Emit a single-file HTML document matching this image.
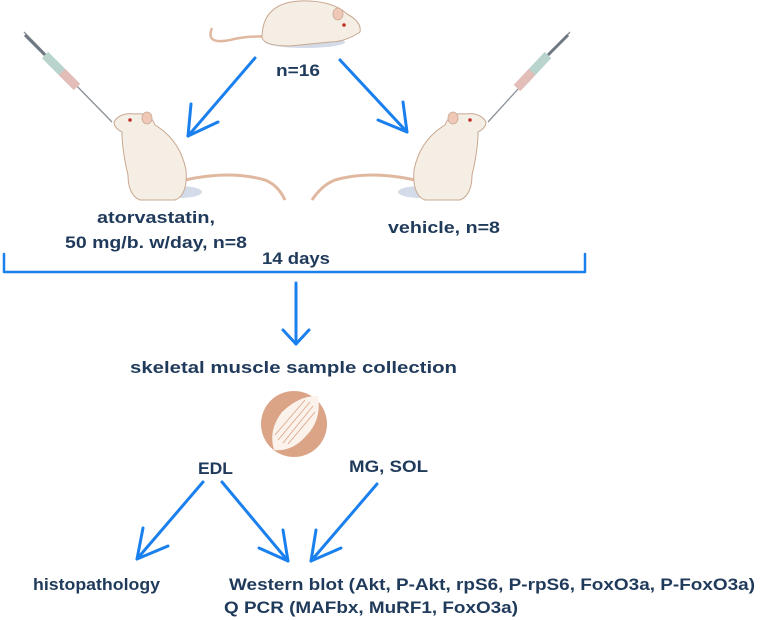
<!DOCTYPE html>
<html><head><meta charset="utf-8"><style>
html,body{margin:0;padding:0;background:#fff;width:761px;height:620px;overflow:hidden}
svg{display:block}
text{font-family:"Liberation Sans",sans-serif;font-weight:bold;fill:#1f3a5a;font-size:17px}
</style></head><body>
<svg width="761" height="620" viewBox="0 0 761 620">

<path d="M212 28 Q205 45 230 40 Q250 35 275 37" stroke="#e0b8a0" stroke-width="2.5" fill="none"/>
<ellipse cx="305" cy="42" rx="40" ry="6" fill="#d3dbe8"/>
<path d="M262 38 Q262 3 300 1 Q332 0 347 14 Q362 22 360 32 Q345 42 330 42 L290 46 Q265 46 262 38 Z" fill="#f5eee4" stroke="#c9a890" stroke-width="1"/>
<ellipse cx="338" cy="14" rx="5" ry="6" fill="#f0c8b8" stroke="#c9a890" stroke-width="0.8"/>
<circle cx="344" cy="25" r="1.8" fill="#c0302a"/>

<text x="276" y="76" textLength="44" lengthAdjust="spacingAndGlyphs">n=16</text>

<line x1="24" y1="32" x2="112" y2="122" stroke="#8a9098" stroke-width="1.3"/>
<line x1="25" y1="35" x2="45" y2="55" stroke="#6f7780" stroke-width="3"/>
<line x1="45" y1="55" x2="75" y2="85" stroke="#b8d4cc" stroke-width="9"/>
<line x1="62" y1="72" x2="77" y2="87" stroke="#e3bdb8" stroke-width="9"/>
<path d="M185 180 Q230 170 265 180 Q278 185 285 200" stroke="#e0b8a0" stroke-width="3" fill="none"/>
<ellipse cx="180" cy="192" rx="22" ry="6" fill="#d3dbe8"/>
<path d="M114 122 Q120 112 135 114 Q150 112 155 125 Q180 140 186 170 Q188 195 175 200 L140 200 Q128 195 128 175 Q122 150 122 132 Q114 128 114 122 Z" fill="#f5eee4" stroke="#c9a890" stroke-width="1"/>
<ellipse cx="147" cy="118" rx="5" ry="6" fill="#f0c8b8" stroke="#c9a890" stroke-width="0.8"/>
<circle cx="130" cy="120" r="1.8" fill="#c0302a"/>

<line x1="570" y1="32" x2="488" y2="122" stroke="#8a9098" stroke-width="1.3"/>
<line x1="568" y1="35" x2="548" y2="55" stroke="#6f7780" stroke-width="3"/>
<line x1="548" y1="55" x2="520" y2="85" stroke="#b8d4cc" stroke-width="9"/>
<line x1="532" y1="72" x2="517" y2="88" stroke="#e3bdb8" stroke-width="9"/>
<path d="M415 180 Q370 170 335 180 Q322 185 312 200" stroke="#e0b8a0" stroke-width="3" fill="none"/>
<ellipse cx="420" cy="192" rx="22" ry="6" fill="#d3dbe8"/>
<path d="M486 122 Q480 112 465 114 Q450 112 445 125 Q420 140 414 170 Q412 195 425 200 L460 200 Q472 195 472 175 Q478 150 478 132 Q486 128 486 122 Z" fill="#f5eee4" stroke="#c9a890" stroke-width="1"/>
<ellipse cx="453" cy="118" rx="5" ry="6" fill="#f0c8b8" stroke="#c9a890" stroke-width="0.8"/>
<circle cx="470" cy="120" r="1.8" fill="#c0302a"/>

<g stroke="#1a80ee" stroke-width="3" fill="none" stroke-linecap="round" stroke-linejoin="round">
  <line x1="255" y1="58" x2="188" y2="136"/>
  <polyline points="191,104 188,136 218,122"/>
  <line x1="340" y1="60" x2="407" y2="132"/>
  <polyline points="378,120 407,132 403,102"/>
  <polyline points="4,254 4,272 585,272 585,254" stroke-width="2.5"/>
  <line x1="296" y1="283" x2="296" y2="344"/>
  <polyline points="283,330 296,344 309,330"/>
  <line x1="203" y1="482" x2="137" y2="559"/>
  <polyline points="143,528 137,559 168,546"/>
  <line x1="222" y1="482" x2="288" y2="561"/>
  <polyline points="259,548 288,561 283,530"/>
  <line x1="377" y1="484" x2="311" y2="561"/>
  <polyline points="316,530 311,561 341,548"/>
</g>

<text x="97" y="223" textLength="118" lengthAdjust="spacingAndGlyphs">atorvastatin,</text>
<text x="65" y="248" textLength="182" lengthAdjust="spacingAndGlyphs">50 mg/b. w/day, n=8</text>
<text x="388" y="233" textLength="112" lengthAdjust="spacingAndGlyphs">vehicle, n=8</text>
<text x="262" y="264" textLength="68" lengthAdjust="spacingAndGlyphs">14 days</text>
<text x="130" y="373" textLength="327" lengthAdjust="spacingAndGlyphs">skeletal muscle sample  collection</text>

<circle cx="294" cy="424" r="33" fill="#dba486"/>
<path d="M274 450 Q268 430 282 412 Q300 395 318 396 Q322 420 306 436 Q292 452 274 450 Z" fill="#fbf2ec"/>
<g stroke="#dba486" stroke-width="0.8">
  <line x1="278" y1="440" x2="310" y2="402"/>
  <line x1="283" y1="443" x2="313" y2="406"/>
  <line x1="275" y1="435" x2="305" y2="400"/>
  <line x1="288" y1="444" x2="315" y2="412"/>
</g>

<text x="198" y="474" textLength="35" lengthAdjust="spacingAndGlyphs">EDL</text>
<text x="349" y="472" textLength="79" lengthAdjust="spacingAndGlyphs">MG, SOL</text>

<text x="33" y="590" textLength="127" lengthAdjust="spacingAndGlyphs">histopathology</text>
<text x="229" y="590" textLength="526" lengthAdjust="spacingAndGlyphs">Western blot (Akt, P-Akt, rpS6, P-rpS6, FoxO3a, P-FoxO3a)</text>
<text x="224" y="613" textLength="294" lengthAdjust="spacingAndGlyphs">Q PCR (MAFbx, MuRF1, FoxO3a)</text>
</svg>
</body></html>
